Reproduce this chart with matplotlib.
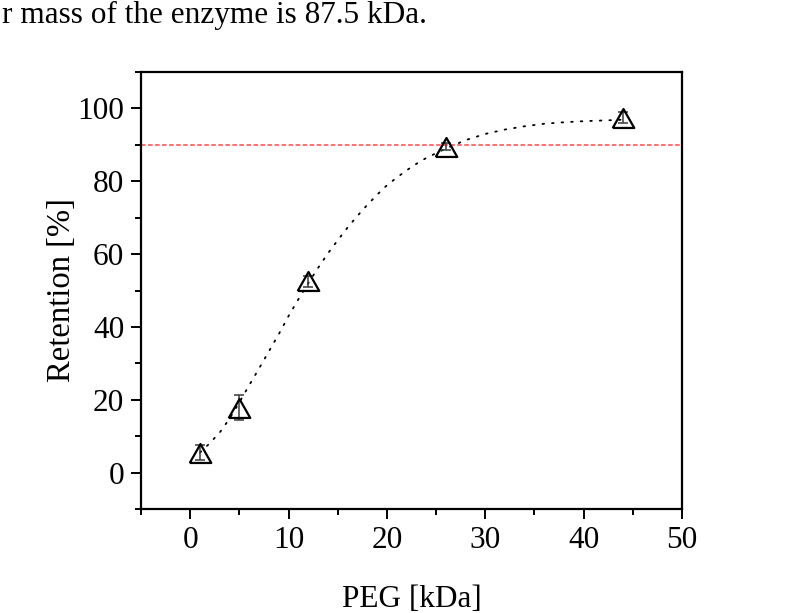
import matplotlib
matplotlib.use("Agg")
import matplotlib.pyplot as plt
from matplotlib.ticker import MultipleLocator

plt.rcParams['font.family'] = ['Liberation Serif', 'DejaVu Serif']

# measured data
peg_kda = [1, 5, 12, 26, 44]
retention = [5.5, 17.8, 52.5, 89.5, 97.4]
retention_err = [2.0, 3.5, 1.5, 1.0, 1.5]

# fitted curve
fit_x = [1, 2, 3, 4, 5, 6, 7, 8, 9, 10, 11, 12, 13, 14, 15, 16, 17, 18, 19,
         20, 21, 22, 23, 24, 26, 28, 30, 32, 34, 36, 38, 40, 42, 44]
fit_y = [5.5, 8.1, 11.0, 14.8, 19.3, 24.0, 28.6, 33.3, 38.0, 43.0, 47.6, 52.0,
         56.2, 60.2, 63.8, 67.3, 70.5, 73.5, 76.3, 78.9, 81.0, 83.0, 84.8, 86.4,
         89.0, 91.3, 93.0, 94.2, 95.1, 95.8, 96.2, 96.5, 96.7, 96.9]

threshold = 90

fig = plt.figure(figsize=(7.91, 6.13), dpi=100)
ax = fig.add_axes([0.1783, 0.1697, 0.6839, 0.7128])

ax.axhline(threshold, color='#ff4a4a', lw=1.1, dashes=(3, 1.6), zorder=1)
ax.plot(fit_x, fit_y, color='black', lw=1.3, linestyle=(0, (0.9, 4.4)),
        dash_capstyle='round', zorder=2)
ax.errorbar(peg_kda, retention, yerr=retention_err, fmt='none',
            ecolor='#3a3a3a', elinewidth=1.1, capsize=3.3, capthick=1.1, zorder=3)
tri = [(-1, -0.88), (1, -0.88), (0, 0.88), (-1, -0.88)]
ax.plot(peg_kda, retention, linestyle='none', marker=tri, markersize=15.5,
        markerfacecolor='none', markeredgecolor='black', markeredgewidth=1.6,
        zorder=4)

ax.set_xlim(-5, 50)
ax.set_ylim(-10, 110)
ax.xaxis.set_major_locator(MultipleLocator(10))
ax.xaxis.set_minor_locator(MultipleLocator(5))
ax.yaxis.set_major_locator(MultipleLocator(20))
ax.yaxis.set_minor_locator(MultipleLocator(10))
ax.tick_params(which='major', direction='out', length=7, width=1.4,
               labelsize=22.5, pad=5)
ax.tick_params(which='minor', direction='out', length=4, width=1.4)
for s in ax.spines.values():
    s.set_linewidth(1.6)

ax.set_xlabel('PEG [kDa]', fontsize=22.5, labelpad=22)
ax.set_ylabel('Retention [%]', fontsize=23.5, labelpad=0)

fig.text(0.002, 0.998, 'r mass of the enzyme is 87.5 kDa.', fontsize=22.5,
         ha='left', va='top')

fig.savefig('out.png', dpi=100)
